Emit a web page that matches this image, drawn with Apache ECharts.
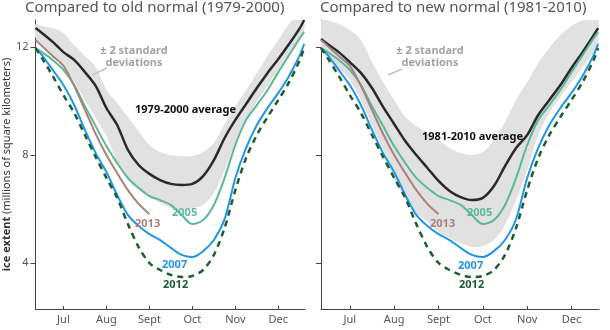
<!DOCTYPE html>
<html><head><meta charset="utf-8">
<script src="https://cdn.jsdelivr.net/npm/echarts@6/dist/echarts.min.js"></script>
<style>html,body{margin:0;padding:0;background:#fff}#c{width:610px;height:330px}</style>
</head><body><div id="c"></div>
<script>
// x positions in month units (7 = mid July tick)
const months = [6.35,6.5,6.75,7,7.25,7.5,7.75,8,8.25,8.5,8.75,9,9.25,9.5,9.75,10,10.25,10.5,10.75,11,11.25,11.5,11.75,12,12.25,12.5,12.6];
const tickMonths = [7,8,9,10,11,12];
const tickNames = ['Jul','Aug','Sept','Oct','Nov','Dec'];
const yTicks = [4,8,12];

// 1979-2000 average and ±2 std band
const avgOld = [12.70,12.52,12.19,11.81,11.52,11.07,10.56,9.74,9.11,8.19,7.63,7.30,7.07,6.93,6.89,6.93,7.22,7.81,8.63,9.30,9.89,10.48,11.04,11.56,12.11,12.70,13.00];
const bandOldHigh = [12.85,12.78,12.70,12.52,12.07,11.67,11.26,10.41,9.93,9.41,8.89,8.37,8.11,8.00,7.96,7.96,8.11,8.44,9.15,9.82,10.41,11.04,11.67,12.26,12.85,13.30,13.44];
const bandOldLow = [12.33,12.11,11.70,11.26,10.70,10.04,9.37,8.70,7.74,7.07,6.70,6.44,6.22,6.04,5.96,6.04,6.15,6.59,7.44,8.44,9.30,9.96,10.56,11.15,11.74,12.26,12.52];

// 1981-2010 average and ±2 std band
const avgNew = [12.30,12.11,11.81,11.44,11.04,10.48,9.78,9.15,8.52,8.00,7.52,7.04,6.67,6.44,6.33,6.41,6.85,7.59,8.26,8.74,9.48,10.04,10.59,11.22,11.81,12.44,12.70];
const bandNewHigh = [13.07,13.00,12.85,12.63,12.26,11.44,10.70,10.04,9.41,9.07,8.81,8.56,8.26,8.07,8.00,8.11,8.56,9.22,10.04,10.70,11.41,11.96,12.44,12.78,13.00,13.19,13.30];
const bandNewLow = [11.89,11.67,11.22,10.78,10.04,9.11,8.19,7.07,6.41,5.85,5.52,5.15,4.93,4.74,4.59,4.63,4.85,5.41,6.33,7.44,8.74,9.56,10.15,10.70,11.26,11.81,12.07];

// individual years
const y2005 = [11.96,11.81,11.52,11.15,10.59,9.81,9.07,8.33,7.70,7.15,6.78,6.48,6.33,6.15,5.78,5.44,5.59,6.15,7.15,8.37,9.30,9.85,10.41,11.07,11.70,12.33,12.56];
const y2007 = [11.96,11.70,11.15,10.59,9.85,8.93,8.07,7.37,6.52,5.78,5.37,5.07,4.85,4.56,4.30,4.22,4.44,4.85,5.63,7.15,8.26,9.11,9.74,10.30,10.93,11.70,12.11];
const y2012 = [11.96,11.59,10.93,10.22,9.56,8.74,7.93,7.15,6.41,5.44,4.59,4.00,3.74,3.56,3.48,3.52,3.74,4.30,5.30,6.70,7.89,8.74,9.41,10.04,10.70,11.52,11.96];
const y2013 = [12.26,12.04,11.67,11.30,10.56,9.67,8.78,8.00,7.33,6.70,6.19,5.81];

const C = {avg:'#2a2a2a', band:'#e1e1e1', y2005:'#5cb897', y2007:'#2196e8', y2012:'#1c5e34', y2013:'#a9817b', axis:'#444', text:'#555'};
const FONT = '"Noto Sans", "Open Sans", sans-serif';

const pairs = (ys) => ys.map((v,i)=>[months[i], v]);

function bandSeries(idx, lo, hi) {
  return {
    type:'custom', xAxisIndex: idx, yAxisIndex: idx, silent:true, animation:false, z:1, clip:true,
    data:[[months[0], lo[0]]],
    renderItem: function (params, api) {
      const top = hi.map((v,i)=>api.coord([months[i], v]));
      const bot = lo.map((v,i)=>api.coord([months[i], v])).reverse();
      return {type:'polygon', shape:{points: top.concat(bot), smooth:0.3}, style:{fill:C.band}};
    }
  };
}

function panelSeries(idx, avg, lo, hi) {
  const base = {xAxisIndex: idx, yAxisIndex: idx, type:'line', symbol:'none', smooth:0.3, animation:false, silent:true};
  return [
    bandSeries(idx, lo, hi),
    Object.assign({}, base, {data: pairs(avg), lineStyle:{color:C.avg, width:2.5}, z:3}),
    Object.assign({}, base, {data: pairs(y2005), lineStyle:{color:C.y2005, width:2}, z:4}),
    Object.assign({}, base, {data: pairs(y2013), lineStyle:{color:C.y2013, width:2}, z:4}),
    Object.assign({}, base, {data: pairs(y2007), lineStyle:{color:C.y2007, width:2}, z:5}),
    Object.assign({}, base, {data: pairs(y2012), lineStyle:{color:C.y2012, width:2.5, type:[6,5]}, z:6})
  ];
}

function xAxis(idx) {
  return {gridIndex: idx, type:'value', min: 6.35, max: 12.62,
    axisLine:{lineStyle:{color:C.axis, width:1}},
    axisTick:{customValues: tickMonths, inside:true, length:3, lineStyle:{color:C.axis}},
    axisLabel:{customValues: tickMonths, formatter:(v)=>tickNames[tickMonths.indexOf(Math.round(v))] || '', color:C.text, fontSize:11, fontFamily:FONT, margin:5},
    splitLine:{show:false}};
}
function yAxis(idx, withLabels) {
  const a = {gridIndex: idx, type:'value', min: 2.296, max: 13.0,
    axisLine:{show:true, lineStyle:{color:C.axis, width:1}},
    axisTick:{show:true, customValues: yTicks, length:5, lineStyle:{color:C.axis}},
    axisLabel:{show: withLabels, customValues: yTicks, color:C.text, fontSize:11, fontFamily:FONT, margin:7},
    splitLine:{show:false}};
  if (withLabels) {
    a.name = '{b|ice extent} (millions of square kilometers)';
    a.nameLocation = 'middle';
    a.nameGap = 19;
    a.nameRotate = 90;
    a.nameTextStyle = {color:'#333', fontSize:11, fontFamily:FONT, rich:{b:{fontWeight:'bold', color:'#333', fontSize:11, fontFamily:FONT}}};
  }
  return a;
}

function txt(x, y, text, color, opts) {
  return {type:'text', x:x, y:y, silent:true, z:100, style:Object.assign({text:text, fill:color, font:'bold 11px ' + FONT, textAlign:'left', textVerticalAlign:'middle'}, opts||{})};
}

const chart = echarts.init(document.getElementById('c'), null, {renderer:'canvas'});
chart.setOption({
  animation:false,
  backgroundColor:'#fff',
  grid:[{left:26, top:20, bottom:21, width:279, containLabel:false},
        {left:321, top:20, bottom:21, width:278, containLabel:false}],
  xAxis:[xAxis(0), xAxis(1)],
  yAxis:[yAxis(0, true), yAxis(1, false)],
  series: panelSeries(0, avgOld, bandOldLow, bandOldHigh).concat(panelSeries(1, avgNew, bandNewLow, bandNewHigh)),
  graphic: [
    {type:'text', x:25, y:8, style:{text:'Compared to old normal (1979-2000)', fill:C.text, font:'15px ' + FONT, textVerticalAlign:'middle'}},
    {type:'text', x:320, y:8, style:{text:'Compared to new normal (1981-2010)', fill:C.text, font:'15px ' + FONT, textVerticalAlign:'middle'}},
    txt(134, 57, '± 2 standard\ndeviations', '#a3a3a3', {textAlign:'center', lineHeight:12}),
    {type:'line', shape:{x1:92, y1:75, x2:107, y2:68}, style:{stroke:'#c4c4c4', lineWidth:1.5}, z:100},
    txt(430, 57, '± 2 standard\ndeviations', '#a3a3a3', {textAlign:'center', lineHeight:12}),
    {type:'line', shape:{x1:388, y1:75, x2:402, y2:69}, style:{stroke:'#c4c4c4', lineWidth:1.5}, z:100},
    txt(135, 110, '1979-2000 average', '#111'),
    txt(422, 137, '1981-2010 average', '#111'),
    txt(172, 213, '2005', C.y2005),
    txt(135, 224, '2013', C.y2013),
    txt(162, 265, '2007', C.y2007),
    txt(163, 285, '2012', C.y2012),
    txt(467, 213, '2005', C.y2005),
    txt(430, 224, '2013', C.y2013),
    txt(458, 266, '2007', C.y2007),
    txt(459, 285, '2012', C.y2012)
  ]
});
</script>
</body></html>
